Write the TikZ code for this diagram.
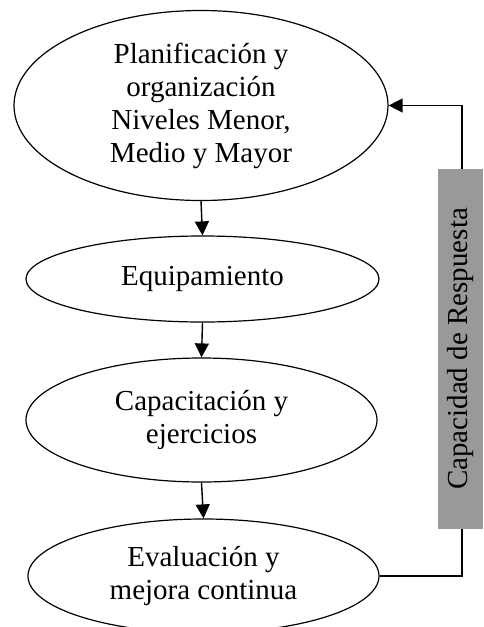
\documentclass[tikz,border=0pt]{standalone}
\usepackage{fontspec}
\setmainfont{Liberation Serif}
\usetikzlibrary{shapes.geometric,arrows.meta}
\definecolor{boxgray}{HTML}{999999}
\begin{document}
\begin{tikzpicture}[x=1pt,y=-1pt,
  stage/.style={ellipse,draw,line width=1.2pt,inner sep=0pt,align=center,
    font=\fontsize{29}{33}\selectfont},
  flow/.style={line width=1.4pt,-{Triangle[length=14pt,width=14pt]}},
  link/.style={line width=1.4pt}]
\useasboundingbox (0,0) rectangle (483,627);
\clip (0,0) rectangle (483,627);
\node[stage,minimum width=374pt,minimum height=190pt] (e1) at (201,105.5)
  {Planificación y\\organización\\Niveles Menor,\\Medio y Mayor};
\node[stage,minimum width=353pt,minimum height=86pt] (e2) at (202.5,279)
  {Equipamiento};
\node[stage,minimum width=351pt,minimum height=124pt] (e3) at (201.5,420)
  {Capacitación y\\ejercicios};
\node[stage,minimum width=351pt,minimum height=114pt] (e4) at (203.5,576)
  {Evaluación y\\mejora continua};
\node[fill=boxgray,minimum width=45pt,minimum height=360pt,inner sep=0pt] (fb) at (460.5,349) {};
\node[rotate=90,font=\fontsize{29}{33}\selectfont] (fbt) at (fb.center) {Capacidad de Respuesta};
\draw[flow] (e1.south) -- (e2.north);
\draw[flow] (e2.south) -- (e3.north);
\draw[flow] (e3.south) -- (e4.north);
\draw[link] (e4.east) -| ([xshift=1.5pt]fb.south);
\draw[flow] ([xshift=1.5pt]fb.north) |- (e1.east);
\end{tikzpicture}
\end{document}
